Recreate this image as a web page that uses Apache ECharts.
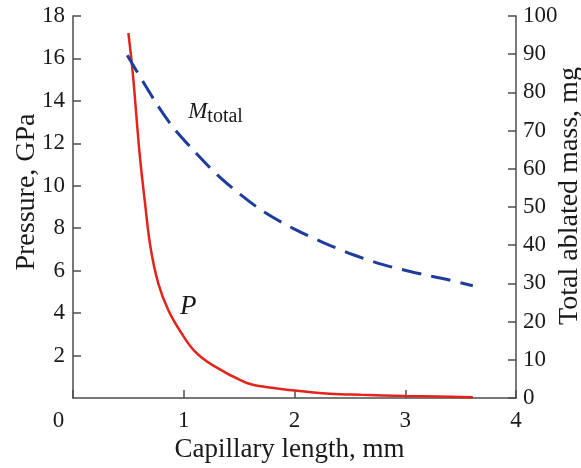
<!DOCTYPE html>
<html>
<head>
<meta charset="utf-8">
<script src="https://cdn.jsdelivr.net/npm/echarts@6/dist/echarts.min.js"></script>
<style>
  html, body { margin: 0; padding: 0; background: #fff; }
  #chart { width: 581px; height: 468px; }
</style>
</head>
<body>
<div id="chart"></div>
<script>
// Pressure P (GPa) versus capillary length (mm)
const pressureLength = [0.50, 0.54, 0.60, 0.65, 0.70, 0.77, 0.86, 0.98, 1.10, 1.26, 1.55, 1.70, 2.00, 2.32, 2.60, 3.00, 3.30, 3.61];
const pressureValues = [17.2, 15.3, 11.6, 9.2, 7.1, 5.4, 4.15, 3.05, 2.2, 1.55, 0.75, 0.55, 0.35, 0.20, 0.15, 0.10, 0.07, 0.03];

// Total ablated mass M (mg) versus capillary length (mm)
const massLength = [0.49, 0.74, 0.90, 1.08, 1.30, 1.51, 1.73, 2.00, 2.26, 2.53, 2.80, 3.09, 3.38, 3.61];
const massValues = [89.7, 77.7, 71.0, 65.1, 58.5, 53.3, 48.6, 44.2, 40.7, 37.5, 34.9, 32.8, 31.0, 29.4];

// Axis ranges
const lengthTicks = [0, 4, 1];
const pressureTicks = [0, 18, 2];
const massTicks = [0, 100, 10];

const FONT = '"Liberation Serif", "Times New Roman", serif';
const AXIS_COLOR = '#4d4d4d';
const TEXT_COLOR = '#1a1a1a';

const zip = (xs, ys) => xs.map((x, i) => [x, ys[i]]);

const chart = echarts.init(document.getElementById('chart'), null, { renderer: 'canvas' });

const axisLine = { show: true, onZero: false, lineStyle: { color: AXIS_COLOR, width: 1.5 } };
const axisTick = { show: true, inside: true, length: 8, lineStyle: { color: AXIS_COLOR, width: 1.5 } };

chart.setOption({
  animation: false,
  backgroundColor: '#ffffff',
  grid: { left: 73, right: 65, top: 16, bottom: 70, containLabel: false, outerBoundsMode: 'none' },
  xAxis: {
    type: 'value',
    min: lengthTicks[0], max: lengthTicks[1], interval: lengthTicks[2],
    name: 'Capillary length, mm',
    nameLocation: 'middle',
    nameGap: 38,
    nameMoveOverlap: false,
    nameTextStyle: { fontFamily: FONT, fontSize: 27, color: TEXT_COLOR, padding: [0, 10, 0, 0] },
    axisLine, axisTick,
    splitLine: { show: false },
    axisLabel: {
      margin: 11,
      fontFamily: FONT, fontSize: 23, color: TEXT_COLOR,
      formatter: v => (v === 0 ? '{z|0}' : String(v)),
      rich: { z: { fontFamily: FONT, fontSize: 23, color: TEXT_COLOR, padding: [0, 29, 0, 0] } }
    }
  },
  yAxis: [
    {
      type: 'value',
      position: 'left',
      min: pressureTicks[0], max: pressureTicks[1], interval: pressureTicks[2],
      name: 'Pressure, GPa',
      nameLocation: 'middle',
      nameGap: 32,
      nameMoveOverlap: false,
      nameRotate: 90,
      nameTextStyle: { fontFamily: FONT, fontSize: 28, color: TEXT_COLOR, padding: [0, 0, 0, 30] },
      axisLine, axisTick,
      splitLine: { show: false },
      axisLabel: { showMinLabel: false, margin: 8, fontFamily: FONT, fontSize: 23, color: TEXT_COLOR }
    },
    {
      type: 'value',
      position: 'right',
      min: massTicks[0], max: massTicks[1], interval: massTicks[2],
      name: 'Total ablated mass, mg',
      nameLocation: 'middle',
      nameGap: 40,
      nameMoveOverlap: false,
      nameRotate: 90,
      nameTextStyle: { fontFamily: FONT, fontSize: 28, color: TEXT_COLOR, padding: [0, 0, 0, 22] },
      axisLine, axisTick,
      splitLine: { show: false },
      axisLabel: { margin: 7, fontFamily: FONT, fontSize: 23, color: TEXT_COLOR }
    }
  ],
  series: [
    {
      name: 'P',
      type: 'line',
      yAxisIndex: 0,
      data: zip(pressureLength, pressureValues),
      smooth: 0.4,
      showSymbol: false,
      lineStyle: { color: '#e3241b', width: 2.5 },
      markPoint: {
        symbol: 'circle', symbolSize: 0,
        data: [{ coord: [0.966, 4.3], value: 'P' }],
        label: {
          show: true, position: 'inside', align: 'left', verticalAlign: 'middle',
          formatter: 'P',
          fontFamily: FONT, fontStyle: 'italic', fontSize: 27, color: TEXT_COLOR
        }
      }
    },
    {
      name: 'Mtotal',
      type: 'line',
      yAxisIndex: 1,
      data: zip(massLength, massValues),
      smooth: 0.3,
      showSymbol: false,
      lineStyle: { color: '#1e3c9c', width: 3, type: [20, 10] },
      markPoint: {
        symbol: 'circle', symbolSize: 0,
        data: [{ coord: [1.04, 75], value: 'M' }],
        label: {
          show: true, position: 'inside', align: 'left', verticalAlign: 'middle',
          formatter: '{m|M}{s|total}',
          rich: {
            m: { fontFamily: FONT, fontStyle: 'italic', fontSize: 23, color: TEXT_COLOR },
            s: { fontFamily: FONT, fontSize: 20, color: TEXT_COLOR, padding: [10, 0, 0, 0] }
          }
        }
      }
    }
  ]
});
</script>
</body>
</html>
